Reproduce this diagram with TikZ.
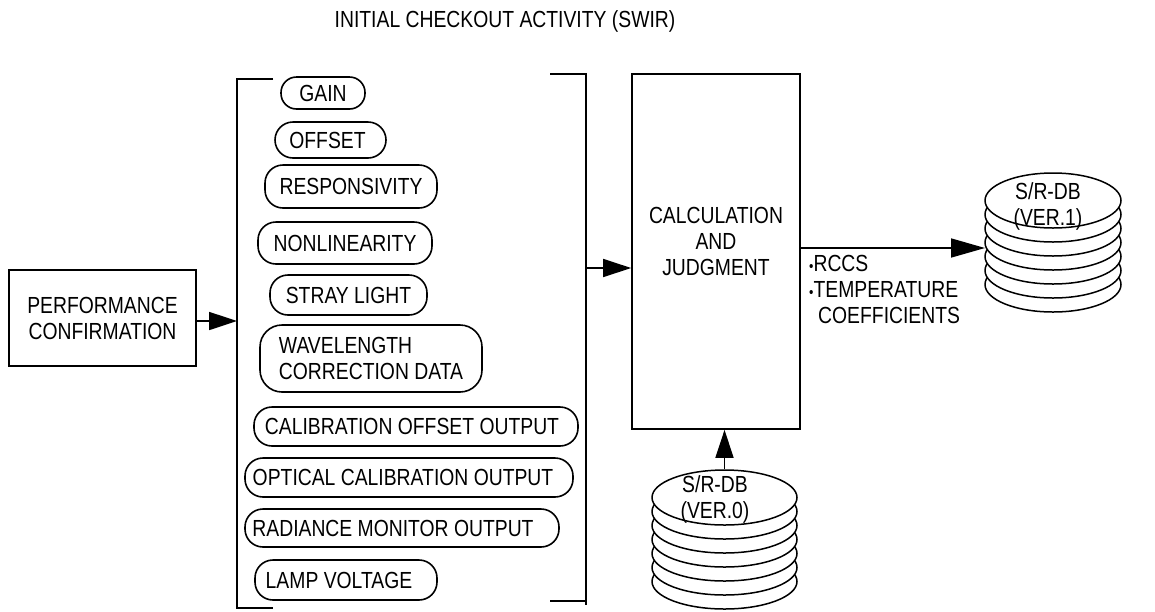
\documentclass[tikz,border=0pt]{standalone}
\usepackage{fontspec}
\setmainfont{Liberation Sans}[FakeStretch=0.83]
\usetikzlibrary{arrows.meta,shapes.geometric}
\begin{document}
\begin{tikzpicture}[x=1pt,y=-1pt,
  base/.style={font=\fontsize{23.3}{26}\selectfont, inner sep=0pt, align=center},
  box/.style={base, draw, line width=1.7pt},
  pill/.style={base, draw, line width=1.6pt, rounded corners=18pt},
  conn/.style={line width=1.7pt},
  arr/.style={conn, -{Triangle[length=28pt,width=18pt]}},
  bigarr/.style={conn, -{Triangle[length=34pt,width=19pt]}},
  dbdisk/.style={draw, line width=1.5pt, fill=white}]
\useasboundingbox (0,0) rectangle (1155,611);

% title
\node[base] (title) at (505,21) {INITIAL CHECKOUT ACTIVITY (SWIR)};

% performance confirmation
\node[box, minimum width=187pt, minimum height=96pt] (perf) at (102.5,318) {PERFORMANCE\\CONFIRMATION};

% brackets
\coordinate (lbt) at (273,79);
\coordinate (lbb) at (273,608);
\coordinate (lb) at (237,321);
\draw[conn] (lbt) -- (237,79) -- (237,608) -- (lbb);
\coordinate (rbt) at (550,74);
\coordinate (rbb) at (550,601);
\coordinate (rb) at (586,268);
\draw[conn] (rbt) -- (586,74) -- (586,605);
\draw[conn] (rbb) -- (586,601);

\draw[arr] (perf.east |- lb) -- (lb);

% pills
\node[pill, rounded corners=15.5pt, minimum width=84pt, minimum height=32pt] (gain) at (323,93) {GAIN};
\node[pill, minimum width=111pt, minimum height=36pt] (offset) at (330.5,140) {OFFSET\hspace*{6pt}};
\node[pill, minimum width=172pt, minimum height=43pt] (resp) at (351,186.5) {RESPONSIVITY};
\node[pill, minimum width=174pt, minimum height=42pt] (nonlin) at (345,243) {NONLINEARITY};
\node[pill, minimum width=157pt, minimum height=40pt] (stray) at (348.5,295) {STRAY LIGHT};
\node[pill, rounded corners=22pt, minimum width=222pt, minimum height=67pt, align=left] (wave) at (371,358.5) {WAVELENGTH\\CORRECTION DATA};
\node[pill, minimum width=324pt, minimum height=39pt] (caloff) at (416,426.5) {CALIBRATION OFFSET OUTPUT\hspace*{8pt}};
\node[pill, minimum width=328pt, minimum height=39pt] (optcal) at (409,477.5) {OPTICAL CALIBRATION OUTPUT\hspace*{12pt}};
\node[pill, minimum width=314pt, minimum height=38pt] (radmon) at (402,528) {RADIANCE MONITOR OUTPUT\hspace*{18pt}};
\node[pill, minimum width=182pt, minimum height=40pt] (lamp) at (346,580) {LAMP VOLTAGE\hspace*{14pt}};

% calculation box
\node[box, minimum width=168pt, minimum height=355pt] (calc) at (716,251.5) {};
\node[base] (calctext) at (716,241) {CALCULATION\\AND\\JUDGMENT};
\draw[arr] (rb) -- (rb -| calc.west);

% DB ver.1
\foreach \k in {6,5,4,3,2,1}
  \draw[dbdisk] (1053,200.5+14*\k) ellipse [x radius=68pt, y radius=27.5pt];
\node[ellipse, dbdisk, minimum width=136pt, minimum height=55pt, inner sep=0pt] (db1) at (1053,200.5) {};
\node[base] (db1text) at (1048,206) {S/R-DB\\(VER.1)};

\coordinate (db1in) at (985,248);
\draw[bigarr] (calc.east |- db1in) -- (db1in);
\node[base, anchor=north west, align=left] (coef) at (809,255) {{\fontsize{15}{15}\selectfont\textbullet}RCCS\\{\fontsize{15}{15}\selectfont\textbullet}TEMPERATURE\\\hspace*{9pt}COEFFICIENTS};

% DB ver.0
\foreach \k in {6,5,4,3,2,1}
  \draw[dbdisk] (724.5,497.5+14*\k) ellipse [x radius=72.5pt, y radius=27.5pt];
\node[ellipse, dbdisk, minimum width=145pt, minimum height=55pt, inner sep=0pt] (db0) at (724.5,497.5) {};
\node[base] (db0text) at (715,499) {S/R-DB\\(VER.0)};
\draw[arr] (db0.north) -- (db0.north |- calc.south);
\end{tikzpicture}
\end{document}
